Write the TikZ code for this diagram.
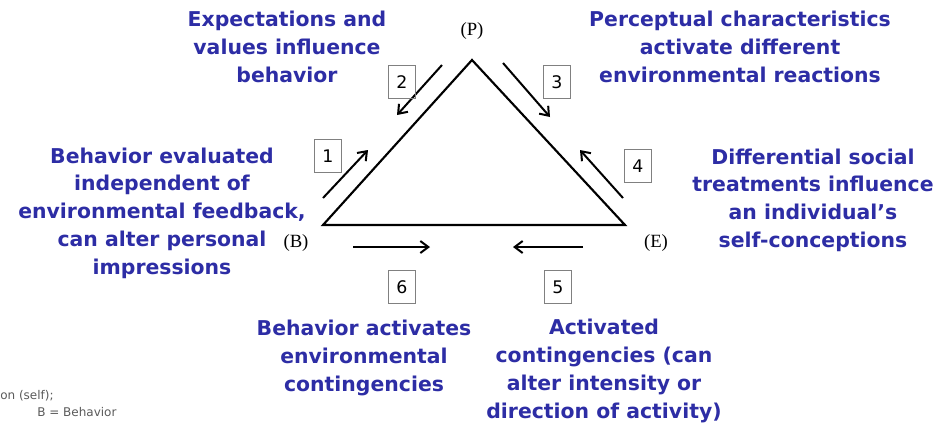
\documentclass[tikz,border=0pt]{standalone}
\usepackage{fontspec}
\setmainfont{Liberation Serif}
\setsansfont{DejaVu Sans}
\usepackage{xcolor}
\usetikzlibrary{arrows.meta, positioning}
\definecolor{labblue}{RGB}{45,45,165}
\definecolor{notegray}{RGB}{90,90,90}

\begin{document}
\begin{tikzpicture}[x=0.75pt, y=-0.75pt,
    desc/.style={align=center, font=\sffamily\bfseries\fontsize{15.3}{20.8}\selectfont, text=labblue, inner sep=0pt},
    numbox/.style={draw=gray, line width=0.5pt, minimum width=20pt, minimum height=25pt, inner sep=0pt, font=\sffamily\fontsize{13}{14}\selectfont},
    vert/.style={font=\fontsize{14}{15}\selectfont, inner sep=0pt},
    note/.style={anchor=west, inner sep=0pt, text=notegray, font=\sffamily\fontsize{9}{10}\selectfont},
    arrw/.style={-{Straight Barb[length=6pt,width=9pt]}, line width=1.5pt}
]
\useasboundingbox (0,0) rectangle (943,433);

% Triangle
\coordinate (top) at (472,60);
\coordinate (lft) at (323,225);
\coordinate (rgt) at (625,225);
\draw[line width=1.6pt, line join=miter] (top) -- (lft) -- (rgt) -- cycle;

\node[vert] (P) at (472,31) {(P)};
\node[vert] (B) at (296,243) {(B)};
\node[vert] (E) at (656,243) {(E)};

% Arrows with numbered boxes
\foreach \n/\sx/\sy/\ex/\ey/\bx/\by in {1/323/198/368/150/328/156, 2/442/65/397/115/402/82,
    3/503/63/550/117/557/82, 4/623/198/580/150/638/166,
    5/583/247/513/247/558/287, 6/353/247/430/247/402/287} {
    \coordinate (s\n) at (\sx,\sy);
    \coordinate (e\n) at (\ex,\ey);
    \draw[arrw] (s\n) -- (e\n);
    \node[numbox] (n\n) at (\bx,\by) {\n};
}

% Descriptions
\node[desc] (d2) at (287,47) {Expectations and\\values influence\\behavior};
\node[desc] (d3) at (740,47) {Perceptual characteristics\\activate different\\environmental reactions};
\node[desc] (d1) at (162,213) {Behavior evaluated\\independent of\\environmental feedback,\\can alter personal\\impressions};
\node[desc] (d4) at (813,200) {Differential social\\treatments influence\\an individual's\\self-conceptions};
\node[desc] (d6) at (364,358) {Behavior activates\\environmental\\contingencies};
\node[desc] (d5) at (604,371) {Activated\\contingencies (can\\alter intensity or\\direction of activity)};

% Footnote
\node[note] (f1) at (0,396) {on (self);};
\node[note] (f2) at (37,412) {B = Behavior};
\end{tikzpicture}
\end{document}
